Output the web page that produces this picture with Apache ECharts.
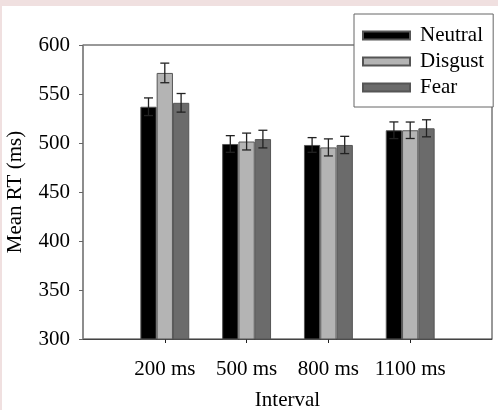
<!DOCTYPE html>
<html>
<head>
<meta charset="utf-8">
<script src="https://cdn.jsdelivr.net/npm/echarts@6/dist/echarts.min.js"></script>
<style>
  html, body { margin: 0; padding: 0; background: #f0e0e0; width: 498px; height: 410px; overflow: hidden; }
  #chart { position: absolute; left: 2px; top: 6px; width: 496px; height: 404px; background: #fff; }
</style>
</head>
<body>
<div id="chart"></div>
<script>
// data
const intervals = ["200 ms", "500 ms", "800 ms", "1100 ms"];
const neutral   = [537, 499, 498, 513];
const disgust   = [571.5, 501.5, 495.5, 513];
const fear      = [541, 504, 498, 515];
const neutralErr = [9, 8.5, 7.5, 8.5];
const disgustErr = [10, 8.6, 8.7, 8.4];
const fearErr    = [9.5, 9, 8.8, 8.7];
const yTicks = [300, 350, 400, 450, 500, 550, 600];

const FONT = "'Liberation Serif', 'Times New Roman', serif";
const BAR_W = 16.3;

// empty slot at both ends so ticks sit at 1/5 .. 4/5 of the frame
const pad = arr => [null, ...arr, null];
const cats = ["", ...intervals, ""];

/**
 * error bars
 */
function errSeries(name, vals, errs, slot) {
    return {
        name: name,
        type: "custom",
        z: 5,
        silent: true,
        data: vals.map((v, i) => [i + 1, v, errs[i]]),
        encode: { x: 0, y: 1 },
        renderItem: function (params, api) {
            const cat = api.value(0), v = api.value(1), e = api.value(2);
            const x = api.coord([cat, v])[0] + slot * BAR_W;
            const top = api.coord([cat, v + e])[1];
            const bot = api.coord([cat, v - e])[1];
            const hw = 4.5;
            const st = { stroke: "#222", lineWidth: 1.3 };
            return {
                type: "group",
                children: [
                    { type: "line", shape: { x1: x, y1: top, x2: x, y2: bot }, style: st },
                    { type: "line", shape: { x1: x - hw, y1: top, x2: x + hw, y2: top }, style: st },
                    { type: "line", shape: { x1: x - hw, y1: bot, x2: x + hw, y2: bot }, style: st }
                ]
            };
        }
    };
}

function barSeries(name, vals, color) {
    return {
        name: name,
        type: "bar",
        barWidth: BAR_W,
        barGap: "0%",
        data: pad(vals),
        itemStyle: { color: color, borderColor: "#555", borderWidth: 1 }
    };
}

const chart = echarts.init(document.getElementById("chart"));

chart.setOption({
    animation: false,
    backgroundColor: "#fff",
    textStyle: { fontFamily: FONT },

    grid: {
        left: 81, right: 6, top: 39, bottom: 71,
        containLabel: false,
        outerBoundsMode: "none",
        show: true, borderColor: "#333", borderWidth: 1,
        backgroundColor: "transparent"
    },

    legend: {
        data: ["Neutral", "Disgust", "Fear"],
        orient: "vertical",
        left: 352, top: 8,
        padding: [11, 9, 9, 8],
        icon: "rect",
        itemWidth: 47, itemHeight: 8, itemGap: 5,
        backgroundColor: "#fff",
        borderColor: "#666", borderWidth: 1,
        textStyle: { fontFamily: FONT, fontSize: 21, color: "#000", lineHeight: 21, padding: [0, 0, 0, 5] }
    },

    xAxis: {
        type: "category",
        data: cats,
        boundaryGap: false,
        name: "Interval",
        nameLocation: "middle",
        nameGap: 51,
        nameTextStyle: { fontFamily: FONT, fontSize: 21, color: "#000" },
        axisLine: { lineStyle: { color: "#444", width: 1 } },
        axisTick: { length: 4, interval: i => i > 0 && i < cats.length - 1, lineStyle: { color: "#222" } },
        axisLabel: { interval: 0, margin: 20, fontFamily: FONT, fontSize: 21, color: "#000" },
        splitLine: { show: false }
    },

    yAxis: {
        type: "value",
        min: yTicks[0], max: yTicks[yTicks.length - 1], interval: 50,
        name: "Mean RT (ms)",
        nameLocation: "middle",
        nameGap: 57,
        nameTextStyle: { fontFamily: FONT, fontSize: 21, color: "#000" },
        axisLine: { show: true, lineStyle: { color: "#8a8a8a", width: 1.5 } },
        axisTick: { show: true, length: 4, lineStyle: { color: "#666" } },
        axisLabel: { margin: 13, fontFamily: FONT, fontSize: 21, color: "#000" },
        splitLine: { show: false }
    },

    series: [
        barSeries("Neutral", neutral, "#000000"),
        barSeries("Disgust", disgust, "#b4b4b4"),
        barSeries("Fear", fear, "#6b6b6b"),
        errSeries("Neutral SE", neutral, neutralErr, -1),
        errSeries("Disgust SE", disgust, disgustErr, 0),
        errSeries("Fear SE", fear, fearErr, 1)
    ]
});
</script>
</body>
</html>
